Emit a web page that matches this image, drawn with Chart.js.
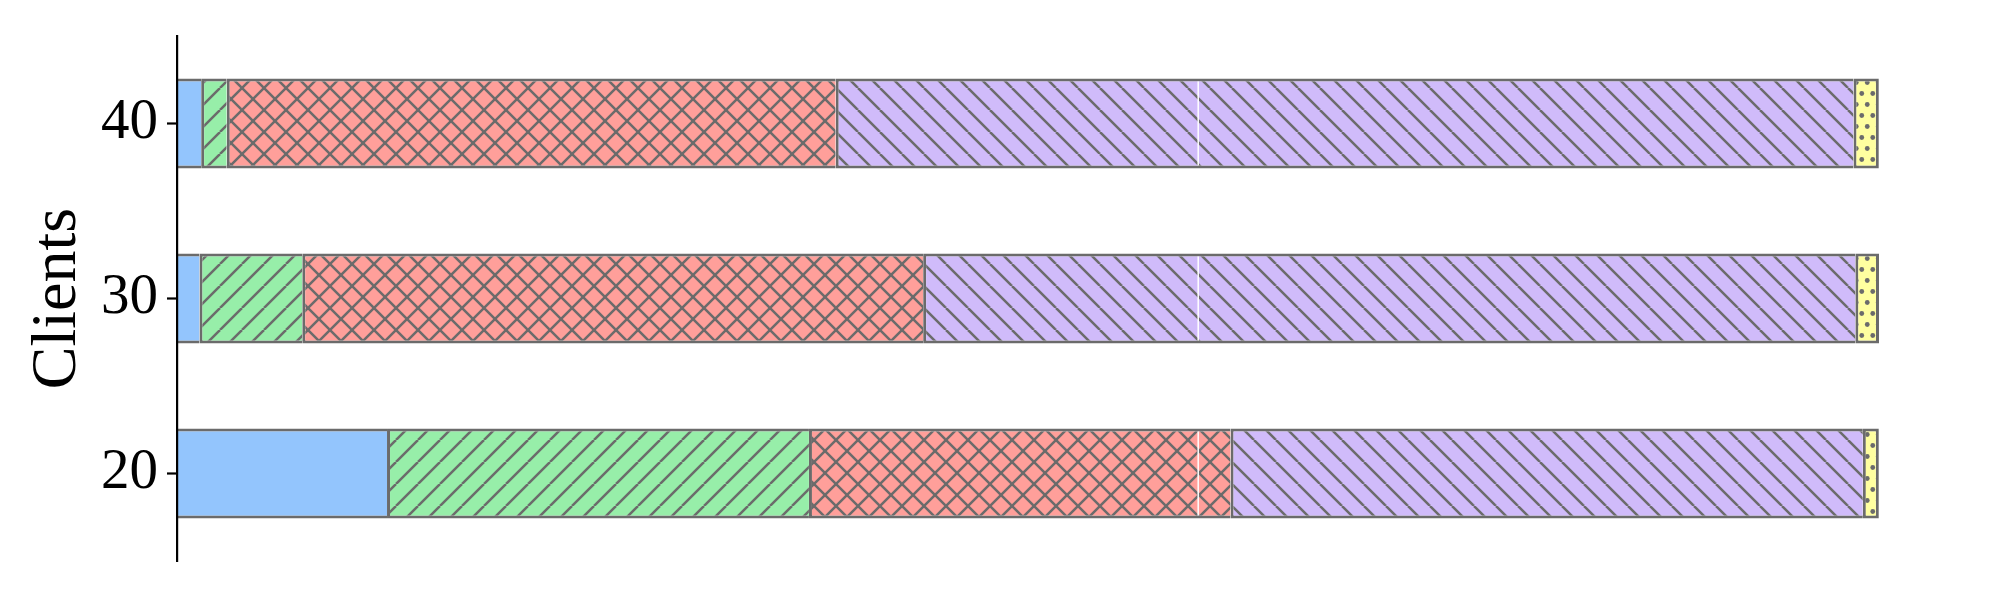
<!DOCTYPE html>
<html>
<head>
<meta charset="utf-8">
<script src="https://cdn.jsdelivr.net/npm/chart.js@4"></script>
<style>
  html, body { margin: 0; padding: 0; background: #ffffff; }
  #wrap { width: 2000px; height: 600px; }
</style>
</head>
<body>
<div id="wrap"><canvas id="chart" width="2000" height="600"></canvas></div>
<script>
const clients = ['40', '30', '20'];
const blueShare = [1.42, 1.32, 12.34];
const greenShare = [1.50, 6.04, 24.79];
const redShare = [35.78, 36.48, 24.77];
const purpleShare = [59.80, 54.77, 37.15];
const yellowShare = [1.49, 1.39, 0.94];
const whiteMark = 60;

const EDGE = '#6b6b6b';
const SERIF = "'Liberation Serif', 'DejaVu Serif', serif";

function makeHatch(bg, kind) {
    const size = kind == 'dots' ? [11, 22] : [22, 22];
    const c = document.createElement('canvas');
    c.width = size[0];
    c.height = size[1];
    const ctx = c.getContext('2d');
    ctx.fillStyle = bg;
    ctx.fillRect(0, 0, c.width, c.height);
    ctx.strokeStyle = EDGE;
    ctx.fillStyle = EDGE;
    ctx.lineWidth = 2.5;
    const s = 22;
    if (kind == 'dots') {
        for (const p of [[2.75, 5.5], [8.25, 16.5]]) {
            ctx.beginPath();
            ctx.arc(p[0], p[1], 2.4, 0, Math.PI * 2);
            ctx.fill();
        }
        return ctx.createPattern(c, 'repeat');
    }
    for (const o of [-s, 0, s]) {
        if (kind == 'fwd' || kind == 'cross') {
            ctx.beginPath();
            ctx.moveTo(o, s);
            ctx.lineTo(o + s, 0);
            ctx.stroke();
        }
        if (kind == 'back' || kind == 'cross') {
            ctx.beginPath();
            ctx.moveTo(o, 0);
            ctx.lineTo(o + s, s);
            ctx.stroke();
        }
    }
    return ctx.createPattern(c, 'repeat');
}

function segment(data, fill, first, last) {
    return {
        data: data,
        backgroundColor: fill,
        borderColor: EDGE,
        borderWidth: { top: 3, bottom: 3, left: first ? 0 : 3, right: last ? 3 : 0 },
        borderSkipped: false,
        barPercentage: 0.514,
        categoryPercentage: 1.0
    };
}

// thin white line drawn over the bar interiors
const whiteLine = {
    id: 'whiteLine',
    afterDatasetsDraw(chart) {
        const ctx = chart.ctx;
        const x = chart.scales.x.getPixelForValue(whiteMark);
        const meta = chart.getDatasetMeta(0);
        ctx.save();
        ctx.strokeStyle = '#ffffff';
        ctx.lineWidth = 1.5;
        for (const bar of meta.data) {
            const h = bar.height;
            ctx.beginPath();
            ctx.moveTo(x, bar.y - h / 2 + 3);
            ctx.lineTo(x, bar.y + h / 2 - 3);
            ctx.stroke();
        }
        ctx.restore();
    }
};

new Chart(document.getElementById('chart'), {
    type: 'bar',
    data: {
        labels: clients,
        datasets: [
            segment(blueShare, '#93c5fd', true, false),
            segment(greenShare, makeHatch('#97eea9', 'fwd'), false, false),
            segment(redShare, makeHatch('#ff9f9a', 'cross'), false, false),
            segment(purpleShare, makeHatch('#d0bbfa', 'back'), false, false),
            segment(yellowShare, makeHatch('#ffffa0', 'dots'), false, true)
        ]
    },
    options: {
        indexAxis: 'y',
        responsive: false,
        animation: false,
        layout: { padding: { top: 36, bottom: 39, left: 0, right: 121 } },
        plugins: {
            legend: { display: false },
            tooltip: { enabled: false }
        },
        scales: {
            x: {
                stacked: true,
                display: false,
                min: 0,
                max: 100
            },
            y: {
                stacked: true,
                afterFit: (scale) => {
                    scale.width = 177;
                    scale.paddingTop = 0;
                    scale.paddingBottom = 0;
                },
                border: { color: '#000000', width: 2.2, z: 1 },
                grid: {
                    drawOnChartArea: false,
                    offset: false,
                    tickLength: 10,
                    tickColor: '#000000',
                    tickWidth: 2.2
                },
                ticks: {
                    padding: 9,
                    color: '#000000',
                    font: { family: SERIF, size: 57 }
                },
                title: {
                    display: true,
                    text: 'Clients',
                    color: '#000000',
                    font: { family: SERIF, size: 64 },
                    padding: { top: 20, bottom: 0 }
                }
            }
        }
    },
    plugins: [whiteLine]
});
</script>
</body>
</html>
